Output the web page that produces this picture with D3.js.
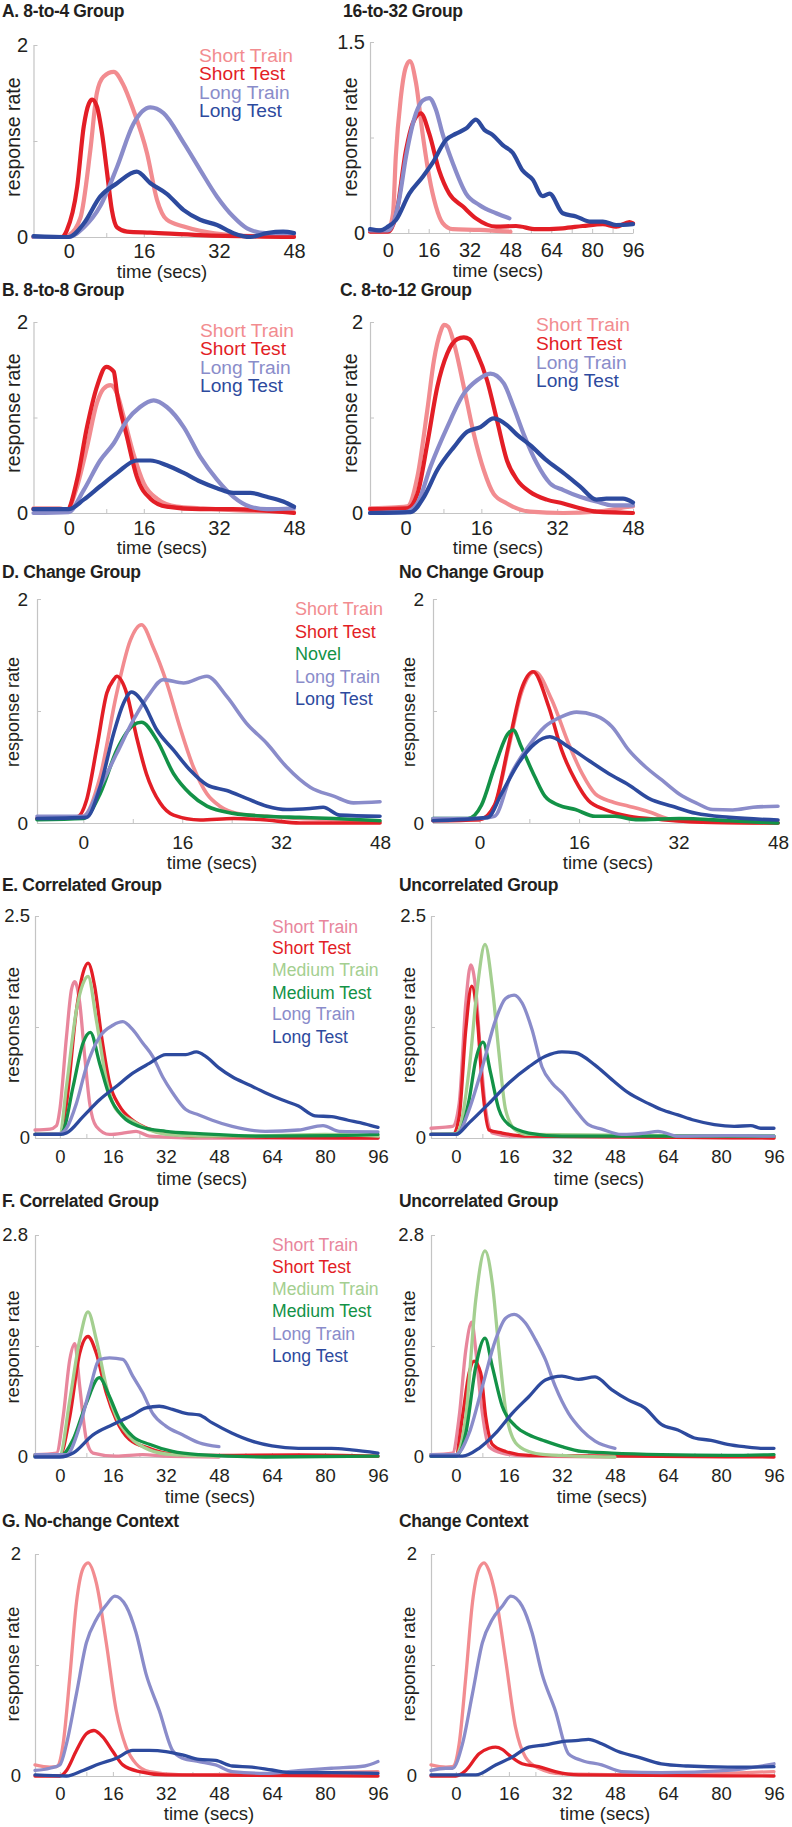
<!DOCTYPE html>
<html><head><meta charset="utf-8">
<script src="https://cdn.jsdelivr.net/npm/d3@7"></script>
<style>body{margin:0;background:#fff} svg{display:block}</style>
</head><body>
<svg id="chart" width="792" height="1827"></svg>
<script>
// ---------- tick labels ----------
const xTicks48 = [0, 16, 32, 48];
const xTicks96 = [0, 16, 32, 48, 64, 80, 96];
const legend4 = ["Short Train", "Short Test", "Long Train", "Long Test"];
const legend5 = ["Short Train", "Short Test", "Novel", "Long Train", "Long Test"];
const legend6 = ["Short Train", "Short Test", "Medium Train", "Medium Test", "Long Train", "Long Test"];

// ---------- A. 8-to-4 ----------
const A_shortTrain = [[-7.5,0],[-2,0],[0,0.02],[2.5,0.2],[4.6,0.9],[6,1.5],[7.4,1.67],[9.6,1.72],[11.5,1.6],[13.8,1.32],[16.7,0.87],[18.8,0.39],[20.9,0.18],[24.5,0.11],[28,0.065],[35,0.02],[40,0.01],[48,0.01]];
const A_shortTest = [[-7.5,0],[-1.5,0],[-0.4,0.07],[1.8,0.52],[3.2,1.15],[4.3,1.39],[5,1.43],[6,1.36],[7.1,1.08],[8.2,0.66],[9.2,0.28],[10.3,0.1],[12.4,0.056],[17.4,0.045],[28,0.02],[48,0]];
const A_longTrain = [[-7.5,0],[0,0],[3.2,0.1],[6.7,0.32],[10.3,0.73],[13.8,1.18],[17.4,1.35],[20.2,1.29],[24.5,0.98],[28,0.7],[31.6,0.42],[35.1,0.21],[38,0.09],[42,0.04],[48,0.04]];
const A_longTest = [[-7.5,0.01],[0,0],[3.2,0.14],[6.7,0.42],[10.3,0.56],[14.5,0.68],[17.4,0.56],[20.9,0.45],[24.5,0.28],[28,0.18],[31.6,0.125],[35.1,0.04],[38.7,0],[42.2,0.04],[45.7,0.055],[48,0.04]];

// ---------- 16-to-32 ----------
const A2_shortTrain = [[-7,0.02],[0,0.02],[2,0.15],[3.1,0.6],[5,1.05],[7,1.3],[8.6,1.35],[11,1.18],[13.6,0.78],[16.2,0.44],[18.8,0.21],[21.4,0.08],[25.4,0.03],[35.8,0.025],[48,0.01]];
const A2_shortTest = [[-7,0.01],[0,0.01],[1.5,0.04],[3.1,0.13],[7.1,0.65],[9.7,0.86],[12.9,0.94],[16.2,0.78],[20.1,0.49],[24,0.31],[29.3,0.21],[34.5,0.115],[42.4,0.05],[50.2,0.055],[58,0.03],[68.5,0.037],[76.3,0.055],[84.2,0.07],[89.4,0.05],[94.6,0.086],[96,0.076]];
const A2_longTrain = [[-7,0.02],[0,0.02],[2,0.07],[4.4,0.26],[7.1,0.6],[11,0.94],[13.6,1.04],[16.2,1.06],[18.8,0.97],[21.4,0.78],[25.4,0.55],[30.6,0.31],[35.8,0.22],[42.4,0.155],[47.6,0.115]];
const A2_longTest = [[-7,0.03],[-3,0.02],[0,0.05],[3.1,0.1],[8.4,0.31],[13.6,0.44],[17.5,0.55],[22.7,0.73],[26.7,0.78],[30.6,0.82],[34.5,0.89],[37.8,0.81],[41,0.77],[45,0.69],[48.9,0.63],[52.8,0.49],[56.7,0.42],[60.6,0.29],[63.3,0.31],[68.5,0.155],[73.7,0.13],[79,0.09],[84.2,0.09],[89.4,0.063],[96,0.07]];

// ---------- B. 8-to-8 ----------
const B_shortTrain = [[-7.5,0.05],[-2,0.05],[-0.4,0.03],[1.8,0.28],[3.9,0.69],[6,1.15],[7.4,1.3],[8.9,1.34],[10.3,1.25],[11.7,1.01],[13.8,0.62],[16,0.31],[18.8,0.15],[23,0.066],[28,0.05],[35,0.03],[48,0.01]];
const B_shortTest = [[-7.5,0.04],[-0.4,0.03],[1.8,0.35],[3.9,0.9],[6,1.32],[8,1.53],[9.6,1.48],[10.3,1.25],[12.4,0.8],[14.5,0.38],[17.4,0.15],[20.9,0.066],[28,0.04],[35,0.04],[48,0]];
const B_longTrain = [[-7.5,0],[0,0.01],[3.2,0.24],[6.7,0.55],[9.6,0.73],[12.4,0.97],[15.2,1.11],[18.1,1.18],[20.9,1.11],[24.5,0.9],[28,0.59],[31.6,0.35],[35.1,0.17],[38.7,0.066],[42.2,0.04],[48,0.05]];
const B_longTest = [[-7.5,0.04],[0,0.04],[3.2,0.14],[6.7,0.28],[10.3,0.42],[14.5,0.55],[17.4,0.55],[20.9,0.5],[24.5,0.42],[28,0.33],[31.6,0.26],[35.1,0.21],[38.7,0.21],[42.2,0.17],[45.7,0.12],[48,0.066]];

// ---------- C. 8-to-12 ----------
const C_shortTrain = [[-7.5,0.05],[-2,0.06],[0.4,0.07],[2.5,0.38],[4.6,1.08],[6,1.6],[7.4,1.9],[8.1,1.97],[9,1.95],[10.2,1.78],[12.3,1.32],[14.4,0.83],[16.5,0.45],[18.6,0.2],[21.4,0.1],[26.3,0.014],[33.3,0],[40.3,0.014],[47.3,0.066],[48,0.07]];
const C_shortTest = [[-7.5,0.04],[0.4,0.05],[2.5,0.2],[4.6,0.73],[6.7,1.32],[8.8,1.67],[10.9,1.82],[12.3,1.84],[13.5,1.82],[15.1,1.67],[17.2,1.39],[19.3,0.97],[21.4,0.55],[23.5,0.35],[26.3,0.22],[29.8,0.14],[33.3,0.1],[36.8,0.05],[40.3,0.014],[48,0]];
const C_longTrain = [[-7.5,0],[0,0.01],[2.5,0.1],[5.3,0.49],[8.8,0.9],[12.3,1.25],[15.1,1.39],[17.9,1.46],[20.7,1.36],[22.8,1.11],[24.9,0.83],[27.7,0.52],[30.5,0.31],[33.3,0.24],[36.8,0.17],[40.3,0.12],[43.8,0.08],[48,0.08]];
const C_longTest = [[-7.5,0],[1.1,0.01],[3.9,0.17],[6.7,0.45],[10.2,0.69],[13,0.85],[15.8,0.9],[18.6,0.99],[21.4,0.92],[23.5,0.82],[26.3,0.71],[29.8,0.55],[33.3,0.42],[36.8,0.28],[40.3,0.14],[42.4,0.15],[45.9,0.15],[48,0.11]];

// ---------- D. Change ----------
const D_shortTrain = [[-7.5,0.04],[-2,0.05],[0,0.06],[2.7,0.41],[5.4,1.16],[7.6,1.63],[9.4,1.77],[11.3,1.57],[13.5,1.25],[15.6,0.86],[17.8,0.5],[20,0.26],[22.1,0.15],[25.4,0.08],[29.7,0.06],[35,0.04],[40.5,0.03],[48,0.01]];
const D_shortTest = [[-7.5,0.04],[-1.1,0.05],[0.5,0.2],[2.2,0.68],[3.8,1.16],[4.9,1.28],[5.4,1.31],[7,1.16],[8.6,0.77],[10.2,0.44],[12.4,0.18],[14.6,0.07],[18.9,0.027],[24.3,0.04],[29.7,0.027],[35,0],[48,0]];
const D_novel = [[-7.5,0.03],[0,0.04],[2.7,0.26],[5.4,0.65],[8.1,0.875],[9.4,0.9],[11.9,0.74],[14.6,0.44],[17.3,0.26],[20,0.15],[24.3,0.086],[29.7,0.06],[35,0.05],[40.5,0.04],[48,0.02]];
const D_longTrain = [[-7.5,0.06],[0,0.06],[2.7,0.32],[5.4,0.62],[8.1,0.92],[10.8,1.16],[12.9,1.28],[16.2,1.25],[20,1.31],[23.2,1.13],[26.4,0.89],[29.7,0.71],[32.9,0.5],[36.7,0.32],[40.5,0.24],[43.7,0.18],[48,0.19]];
const D_longTest = [[-7.5,0.04],[0.5,0.05],[2.7,0.32],[4.9,0.8],[6.5,1.07],[7.8,1.17],[9.7,1.07],[11.9,0.83],[14.6,0.65],[17.3,0.47],[20,0.34],[23.2,0.29],[26.4,0.22],[29.7,0.15],[32.9,0.12],[36.7,0.13],[38.8,0.14],[41.5,0.07],[48,0.06]];

// ---------- No Change ----------
const D2_shortTrain = [[-7.5,0.03],[0,0.03],[2.4,0.15],[4.6,0.65],[6.7,1.16],[8.9,1.35],[11.6,1.1],[14.3,0.71],[16.5,0.44],[18.6,0.26],[21.3,0.19],[24,0.15],[27.2,0.1],[31,0.027],[34.8,0.01],[48,0]];
const D2_shortTest = [[-7.5,0.02],[0,0.03],[2.4,0.16],[4.6,0.68],[6.7,1.19],[8.6,1.35],[11.1,1.04],[13.2,0.65],[15.4,0.38],[17.5,0.2],[20.2,0.12],[24,0.06],[29.4,0.03],[34.8,0.01],[48,0]];
const D2_novel = [[-7.5,0.04],[-1.9,0.04],[0.3,0.16],[2.4,0.5],[4.6,0.8],[5.4,0.83],[6.7,0.68],[8.9,0.41],[10.5,0.24],[12.7,0.16],[15.4,0.12],[18.6,0.06],[21.8,0.06],[25.1,0.03],[32.1,0.04],[40.2,0.02],[48,0]];
const D2_longTrain = [[-7.5,0.04],[0,0.04],[2.4,0.06],[5.1,0.44],[7.8,0.68],[10.5,0.86],[13.2,0.95],[15.6,0.99],[18.6,0.96],[21.3,0.86],[24,0.65],[26.7,0.5],[29.4,0.38],[32.1,0.26],[34.8,0.18],[37.5,0.12],[40.7,0.116],[44,0.14],[48,0.15]];
const D2_longTest = [[-7.5,0.02],[1.3,0.05],[3.5,0.26],[6.2,0.53],[8.9,0.71],[11.3,0.77],[14.3,0.68],[17.5,0.56],[20.8,0.44],[24,0.34],[27.2,0.22],[31,0.15],[34.8,0.086],[40.2,0.05],[48,0.027]];

// ---------- E. Correlated ----------
const E_shortTrain = [[-7.5,0.09],[-3,0.1],[-1,0.14],[0,0.32],[2,1.14],[3.5,1.67],[4.5,1.76],[6,1.52],[7.5,0.92],[9,0.39],[11,0.13],[15,0.04],[20,0.06],[23,0.075],[27,0.02],[40,0],[96,0]];
const E_shortTest = [[-7.5,0.04],[0,0.05],[2,0.39],[5,1.44],[7,1.86],[8.5,1.97],[10.5,1.71],[12.6,1.14],[15,0.62],[18,0.36],[22,0.2],[27,0.1],[32,0.056],[42,0.02],[96,0]];
const E_mediumTrain = [[-7.5,0.04],[0,0.05],[2,0.58],[5,1.44],[7,1.74],[8.5,1.82],[11,1.33],[14,0.66],[17,0.32],[22,0.19],[27,0.09],[32,0.04],[42,0.02],[62,0.026],[80,0.04],[96,0.02]];
const E_mediumTest = [[-7.5,0.04],[0,0.04],[1,0.075],[4,0.58],[7,1.07],[9.2,1.19],[12,0.84],[15,0.47],[19,0.24],[24,0.13],[32,0.075],[42,0.05],[62,0.02],[82,0.026],[96,0.04]];
const E_longTrain = [[-7.5,0.04],[0,0.05],[2,0.11],[5,0.39],[8,0.8],[12,1.14],[16,1.27],[19,1.31],[22,1.22],[25,1.07],[28,0.92],[31,0.69],[34,0.51],[38,0.32],[42,0.26],[46,0.2],[52,0.13],[62,0.075],[72,0.09],[79.4,0.14],[84.4,0.075],[96,0.07]];
const E_longTest = [[-7.5,0.04],[0,0.04],[2,0.056],[7,0.24],[12,0.43],[17,0.58],[22,0.73],[27,0.84],[32,0.94],[38,0.94],[41.2,0.97],[44,0.92],[48,0.79],[52,0.69],[57,0.6],[62,0.51],[67,0.43],[72,0.36],[77,0.25],[82,0.24],[87,0.2],[92,0.16],[96,0.12]];

// ---------- E. Uncorrelated ----------
const E2_shortTrain = [[-7.5,0.11],[-4,0.12],[-1,0.13],[1,0.39],[3,1.52],[4.5,1.95],[6,1.67],[7.5,0.92],[9,0.32],[11,0.056],[17,0.02],[96,0]];
const E2_shortTest = [[-7.5,0.04],[-1,0.04],[1,0.24],[3,1.22],[4.8,1.71],[6.5,1.33],[8,0.58],[10,0.09],[14,0.056],[22,0.02],[96,0]];
const E2_mediumTrain = [[-7.5,0.04],[0,0.05],[1,0.09],[4,0.77],[6.5,1.7],[8.8,2.18],[11,1.7],[13,0.96],[15,0.32],[18,0.09],[22,0.04],[96,0.02]];
const E2_mediumTest = [[-7.5,0.04],[0,0.04],[1,0.056],[4,0.43],[6,0.88],[8.2,1.08],[10.5,0.73],[13,0.32],[16,0.15],[22,0.056],[32,0.02],[96,0.02]];
const E2_longTrain = [[-7.5,0.04],[0,0.04],[1,0.06],[4,0.32],[8,0.8],[12,1.33],[15,1.57],[17.6,1.61],[20,1.52],[23,1.22],[26,0.8],[29,0.62],[32,0.51],[36,0.32],[40,0.15],[44,0.1],[50,0.04],[57,0.056],[61,0.075],[67,0.02],[82,0.026],[96,0.02]];
const E2_longTest = [[-7.5,0.04],[0,0.04],[4,0.17],[10,0.39],[16,0.62],[22,0.8],[27,0.92],[32,0.97],[36,0.96],[42,0.82],[47,0.66],[52,0.51],[58,0.39],[62,0.32],[67,0.26],[72,0.2],[78,0.15],[84,0.13],[89,0.14],[92,0.11],[96,0.11]];

// ---------- F. Correlated ----------
const F_shortTrain = [[-7.5,0.03],[-1,0.05],[1,0.51],[3,1.23],[4.5,1.43],[6,0.89],[8,0.22],[10,0.05],[17,0.01],[25,0.03],[32,0.01],[48,0]];
const F_shortTest = [[-7.5,0.02],[0,0.02],[3,0.51],[6,1.31],[8.5,1.52],[11,1.31],[14,0.81],[17,0.47],[21,0.22],[27,0.11],[32,0.05],[42,0.02],[72,0.025],[96,0.01]];
const F_mediumTrain = [[-7.5,0.03],[0,0.03],[3,0.72],[6,1.48],[8.5,1.83],[11,1.48],[14,0.89],[17,0.51],[21,0.26],[27,0.09],[34,0.03],[48,0.01]];
const F_mediumTest = [[-7.5,0.01],[0,0.01],[4,0.22],[8,0.68],[11.9,1.0],[15,0.76],[18,0.47],[22,0.26],[27,0.16],[34,0.07],[42,0.03],[62,0],[96,0.01]];
const F_longTrain = [[-7.5,0.03],[2,0.03],[6,0.39],[9,0.85],[12,1.23],[15,1.25],[19,1.23],[22,1.02],[25,0.81],[28,0.55],[32,0.39],[37,0.28],[42,0.18],[48,0.13]];
const F_longTest = [[-7.5,0],[0,0],[4,0.05],[10,0.28],[16,0.41],[22,0.53],[26,0.62],[30,0.64],[34,0.6],[38,0.55],[42,0.53],[46,0.43],[52,0.3],[58,0.2],[64,0.14],[72,0.11],[82,0.11],[88,0.09],[96,0.05]];

// ---------- F. Uncorrelated ----------
const F2_shortTrain = [[-7.5,0.03],[-1,0.05],[1,0.51],[3,1.35],[4.8,1.7],[6,1.35],[7.5,0.72],[10,0.13],[14,0.05],[22,0.01],[48,0]];
const F2_shortTest = [[-7.5,0.03],[0,0.03],[2,0.51],[4,1.06],[5.5,1.21],[7.5,1.06],[9,0.51],[11,0.16],[15,0.07],[22,0.02],[96,0]];
const F2_mediumTrain = [[-7.5,0.03],[0,0.03],[3,0.51],[6,1.98],[8.8,2.6],[11,2.19],[13,1.35],[15,0.6],[18,0.18],[22,0.07],[27,0.03],[48,0]];
const F2_mediumTest = [[-7.5,0.01],[0,0.01],[3,0.3],[6,1.14],[8.8,1.5],[11,1.14],[14,0.64],[18,0.39],[22,0.28],[27,0.2],[32,0.13],[38,0.07],[47,0.05],[62,0.03],[82,0.02],[96,0.03]];
const F2_longTrain = [[-7.5,0.03],[0,0.03],[4,0.3],[8,0.89],[12,1.48],[15,1.75],[17.6,1.8],[21,1.69],[24,1.48],[27,1.23],[30,0.89],[34,0.55],[38,0.34],[42,0.2],[48,0.11]];
const F2_longTest = [[-7.5,0.01],[2,0.01],[7,0.11],[12,0.3],[17,0.55],[22,0.76],[27,0.97],[32,1.02],[37,0.98],[42,1.01],[47,0.85],[52,0.72],[57,0.62],[62,0.41],[67,0.34],[72,0.24],[77,0.21],[82,0.16],[87,0.13],[92,0.11],[96,0.11]];

// ---------- G. No-change Context ----------
const G_shortTrain = [[-7.5,0.1],[-3,0.08],[-1,0.084],[1,0.29],[3,0.89],[5,1.56],[7,1.87],[8.5,1.92],[11,1.74],[14,1.2],[17,0.59],[20,0.26],[23,0.11],[27,0.04],[37,0.01],[60,0.02],[96,0.04]];
const G_shortTest = [[-7.5,0],[0,0],[2,0.05],[5,0.23],[8,0.38],[10.3,0.41],[13,0.35],[16,0.22],[19,0.1],[24,0.04],[32,0.01],[96,0]];
const G_longTrain = [[-7.5,0.05],[-3,0.07],[0,0.1],[2,0.29],[5,0.74],[8,1.2],[11,1.41],[14,1.54],[16.6,1.62],[20,1.53],[23,1.29],[26,0.92],[30,0.59],[34,0.23],[37,0.16],[42,0.13],[47,0.1],[52,0.04],[62,0.024],[72,0.048],[82,0.07],[92,0.09],[96,0.13]];
const G_longTest = [[-7.5,0.01],[2,0],[7,0.05],[12,0.11],[17,0.16],[22,0.23],[27,0.23],[32,0.22],[37,0.19],[42,0.15],[47,0.14],[52,0.09],[58,0.08],[64,0.054],[70,0.03],[82,0.03],[96,0.024]];

// ---------- Change Context ----------
const G2_shortTrain = [[-7.5,0.1],[-3,0.08],[-1,0.084],[1,0.29],[3,0.89],[5,1.56],[7,1.87],[8.5,1.92],[10,1.85],[12,1.62],[15,1.05],[18,0.44],[21,0.17],[25,0.07],[32,0.02],[60,0.01],[96,0.04]];
const G2_shortTest = [[-7.5,0],[0,0],[3,0.05],[7,0.2],[10,0.25],[12,0.26],[14,0.24],[16,0.19],[20,0.11],[25,0.084],[30,0.04],[37,0.01],[96,0]];
const G2_longTrain = [[-7.5,0.05],[-3,0.07],[-1,0.07],[2,0.29],[5,0.74],[8,1.2],[11,1.41],[14,1.53],[16.6,1.62],[20,1.53],[23,1.29],[26,0.92],[30,0.59],[34,0.2],[38,0.14],[44,0.1],[50,0.04],[62,0.03],[82,0.05],[96,0.11]];
const G2_longTest = [[-7.5,0.01],[6,0.01],[12,0.1],[17,0.17],[22,0.26],[27,0.28],[32,0.31],[37,0.32],[40,0.33],[44,0.29],[49,0.22],[55,0.17],[62,0.11],[70,0.09],[82,0.08],[96,0.084]];

// ---------- colours ----------
const COL = {
  "Short Train": "#F28C90",
  "Short Test": "#E31E26",
  "Novel": "#139247",
  "Medium Train": "#A4CF90",
  "Medium Test": "#139247",
  "Long Train": "#8A8CCA",
  "Long Test": "#2D4A9E"
};
const PINK2 = "#E8869C";

// ---------- layout ----------
// tfs: tick font, yfs: "response rate" font, xfs: "time (secs)" font, lfs: legend font
const panels = [
  {title:"A.  8-to-4 Group", tx:2, ty:17, left:33.5, right:294, top:45, zero:237, xd:[-7.5,48], yMax:2, yLab:["0","2"], xt:xTicks48, xLabY:251, yLabR:28,
   ylx:13, yly:137, tlx:162, tly:271, tfs:20, yfs:19.5, xfs:18.5, lfs:19.2, lw:4.2,
   series:[A_shortTrain,A_shortTest,A_longTrain,A_longTest], names:legend4, legX:199, legY:[62,79.5,98.5,117]},
  {title:"16-to-32 Group", tx:343, ty:17, left:370, right:633, top:42, zero:233, xd:[-7,96], yMax:1.5, yLab:["0","1.5"], xt:xTicks96, xLabY:250, yLabR:365,
   ylx:350, yly:137, tlx:498, tly:270, tfs:20, yfs:19.5, xfs:18.5, lfs:19.2, lw:4.2,
   series:[A2_shortTrain,A2_shortTest,A2_longTrain,A2_longTest], names:legend4},
  {title:"B. 8-to-8 Group", tx:2, ty:296, left:33.5, right:294, top:322, zero:513, xd:[-7.5,48], yMax:2, yLab:["0","2"], xt:xTicks48, xLabY:528, yLabR:28,
   ylx:13, yly:413, tlx:162, tly:547, tfs:20, yfs:19.5, xfs:18.5, lfs:19.2, lw:4.2,
   series:[B_shortTrain,B_shortTest,B_longTrain,B_longTest], names:legend4, legX:200, legY:[337,355,373.5,392]},
  {title:"C. 8-to-12 Group", tx:340, ty:296, left:370, right:633, top:322, zero:513, xd:[-7.5,48], yMax:2, yLab:["0","2"], xt:xTicks48, xLabY:528, yLabR:363,
   ylx:350, yly:413, tlx:498, tly:547, tfs:20, yfs:19.5, xfs:18.5, lfs:19.2, lw:4.2,
   series:[C_shortTrain,C_shortTest,C_longTrain,C_longTest], names:legend4, legX:536, legY:[331,349.5,368.5,387]},
  {title:"D. Change Group", tx:2, ty:578, left:37, right:380, top:599, zero:823, xd:[-7.5,48], yMax:2, yLab:["0","2"], xt:xTicks48, xLabY:842, yLabR:28,
   ylx:12.5, yly:712, tlx:212, tly:862, tfs:19, yfs:18, xfs:18.5, lfs:18, lw:3.6,
   series:[D_shortTrain,D_shortTest,D_novel,D_longTrain,D_longTest], names:legend5, legX:295, legY:[615,638,660,683,704.5]},
  {title:"No Change Group", tx:399, ty:578, left:433, right:778, top:599, zero:823, xd:[-7.5,48], yMax:2, yLab:["0","2"], xt:xTicks48, xLabY:842, yLabR:424,
   ylx:408.5, yly:712, tlx:608, tly:862, tfs:19, yfs:18, xfs:18.5, lfs:18, lw:3.6,
   series:[D2_shortTrain,D2_shortTest,D2_novel,D2_longTrain,D2_longTest], names:legend5},
  {title:"E. Correlated Group", tx:2, ty:891, left:35, right:378, top:916, zero:1138, xd:[-7.5,96], yMax:2.5, yLab:["0","2.5"], xt:xTicks96, xLabY:1157, yLabR:30,
   ylx:12.5, yly:1025, tlx:202, tly:1178, tfs:18.5, yfs:19, xfs:18.5, lfs:17.6, lw:3.3, pink:true,
   series:[E_shortTrain,E_shortTest,E_mediumTrain,E_mediumTest,E_longTrain,E_longTest], names:legend6, legX:272, legY:[932.5,954,976,998.5,1020,1042.5]},
  {title:"Uncorrelated Group", tx:399, ty:891, left:431, right:774, top:916, zero:1138, xd:[-7.5,96], yMax:2.5, yLab:["0","2.5"], xt:xTicks96, xLabY:1157, yLabR:426,
   ylx:408.5, yly:1025, tlx:599, tly:1178, tfs:18.5, yfs:19, xfs:18.5, lfs:17.6, lw:3.3, pink:true,
   series:[E2_shortTrain,E2_shortTest,E2_mediumTrain,E2_mediumTest,E2_longTrain,E2_longTest], names:legend6},
  {title:"F. Correlated Group", tx:2, ty:1207, left:35, right:378, top:1235, zero:1457, xd:[-7.5,96], yMax:2.8, yLab:["0","2.8"], xt:xTicks96, xLabY:1476, yLabR:28,
   ylx:12.5, yly:1347, tlx:210, tly:1496, tfs:18.5, yfs:18.5, xfs:18.5, lfs:17.6, lw:3.3, pink:true,
   series:[F_shortTrain,F_shortTest,F_mediumTrain,F_mediumTest,F_longTrain,F_longTest], names:legend6, legX:272, legY:[1251,1273,1295,1317,1339.5,1362]},
  {title:"Uncorrelated Group", tx:399, ty:1207, left:431, right:774, top:1235, zero:1457, xd:[-7.5,96], yMax:2.8, yLab:["0","2.8"], xt:xTicks96, xLabY:1476, yLabR:424,
   ylx:408.5, yly:1347, tlx:602, tly:1496, tfs:18.5, yfs:18.5, xfs:18.5, lfs:17.6, lw:3.3, pink:true,
   series:[F2_shortTrain,F2_shortTest,F2_mediumTrain,F2_mediumTest,F2_longTrain,F2_longTest], names:legend6},
  {title:"G. No-change Context", tx:2, ty:1527, left:35, right:378, top:1554, zero:1776, xd:[-7.5,96], yMax:2, yLab:["0","2"], xt:xTicks96, xLabY:1794, yLabR:21,
   ylx:12.5, yly:1664, tlx:209, tly:1813, tfs:18.5, yfs:18.8, xfs:18.5, lfs:17.6, lw:3.3,
   series:[G_shortTrain,G_shortTest,G_longTrain,G_longTest], names:legend4},
  {title:"Change Context", tx:399, ty:1527, left:431, right:774, top:1554, zero:1776, xd:[-7.5,96], yMax:2, yLab:["0","2"], xt:xTicks96, xLabY:1794, yLabR:417,
   ylx:408.5, yly:1664, tlx:605, tly:1813, tfs:18.5, yfs:18.8, xfs:18.5, lfs:17.6, lw:3.3,
   series:[G2_shortTrain,G2_shortTest,G2_longTrain,G2_longTest], names:legend4}
];

const svg = d3.select("#chart");
svg.append("rect").attr("width",792).attr("height",1827).attr("fill","#fff");
const FONT = "'Liberation Sans', Arial, Helvetica, sans-serif";
const AXC = "#c4c4c4";
const TXT = "#231f20";

function colorOf(name, p) {
  if (name === "Short Train" && p.pink) return PINK2;
  return COL[name];
}

function drawPanel(p) {
  const g = svg.append("g");
  const x = d3.scaleLinear().domain(p.xd).range([p.left, p.right]);
  const y = d3.scaleLinear().domain([0, p.yMax]).range([p.zero, p.top]);

  // minor x ticks (every 8 s), pointing up
  const minor = d3.range(0, p.xd[1] + 0.01, 8);
  const xMinor = g.append("g").attr("transform", `translate(0,${p.zero})`)
    .call(d3.axisBottom(x).tickValues(minor).tickSizeInner(-4).tickSizeOuter(0).tickFormat(""));
  xMinor.select(".domain").attr("stroke", AXC).attr("stroke-width", 1.2);
  xMinor.selectAll(".tick line").attr("stroke", AXC);

  // x labels
  const pad = p.xLabY - p.zero - 0.36 * p.tfs;
  const xLab = g.append("g").attr("transform", `translate(0,${p.zero})`)
    .call(d3.axisBottom(x).tickValues(p.xt).tickSize(0).tickPadding(pad).tickFormat(d3.format("d")));
  xLab.select(".domain").remove();
  xLab.selectAll("text").attr("font-family", FONT).attr("font-size", p.tfs).attr("fill", TXT);

  // y axis
  const yTicks = [0, p.yMax / 2, p.yMax];
  const yAx = g.append("g").attr("transform", `translate(${p.left},0)`)
    .call(d3.axisLeft(y).tickValues(yTicks).tickSizeInner(-4).tickSizeOuter(0)
      .tickPadding(p.left - p.yLabR)
      .tickFormat((d, i) => i === 0 ? p.yLab[0] : (i === 2 ? p.yLab[1] : "")));
  yAx.select(".domain").attr("stroke", AXC).attr("stroke-width", 1.2);
  yAx.selectAll(".tick line").attr("stroke", AXC);
  yAx.selectAll("text").attr("font-family", FONT).attr("font-size", p.tfs).attr("fill", TXT);

  // lines
  const line = d3.line().x(d => x(d[0])).y(d => y(d[1])).curve(d3.curveMonotoneX);
  p.series.forEach((s, i) => {
    g.append("path").datum(s).attr("d", line)
      .attr("fill", "none").attr("stroke", colorOf(p.names[i], p))
      .attr("stroke-width", p.lw).attr("stroke-linejoin", "round").attr("stroke-linecap", "round");
  });

  // title
  g.append("text").attr("x", p.tx).attr("y", p.ty).text(p.title)
    .attr("font-family", FONT).attr("font-weight", "bold").attr("font-size", 17.5)
    .attr("letter-spacing", "-0.35px").attr("fill", TXT);

  // axis titles
  g.append("text").attr("transform", `translate(${p.ylx},${p.yly}) rotate(-90)`)
    .attr("text-anchor", "middle").attr("dominant-baseline", "central")
    .attr("font-family", FONT).attr("font-size", p.yfs).attr("fill", TXT).text("response rate");
  g.append("text").attr("x", p.tlx).attr("y", p.tly)
    .attr("text-anchor", "middle").attr("dominant-baseline", "central")
    .attr("font-family", FONT).attr("font-size", p.xfs).attr("fill", TXT).text("time (secs)");

  // legend
  if (p.legX !== undefined) {
    p.names.forEach((n, i) => {
      g.append("text").attr("x", p.legX).attr("y", p.legY[i]).text(n)
        .attr("font-family", FONT).attr("font-size", p.lfs).attr("fill", colorOf(n, p));
    });
  }
}

panels.forEach(drawPanel);
</script>
</body></html>
